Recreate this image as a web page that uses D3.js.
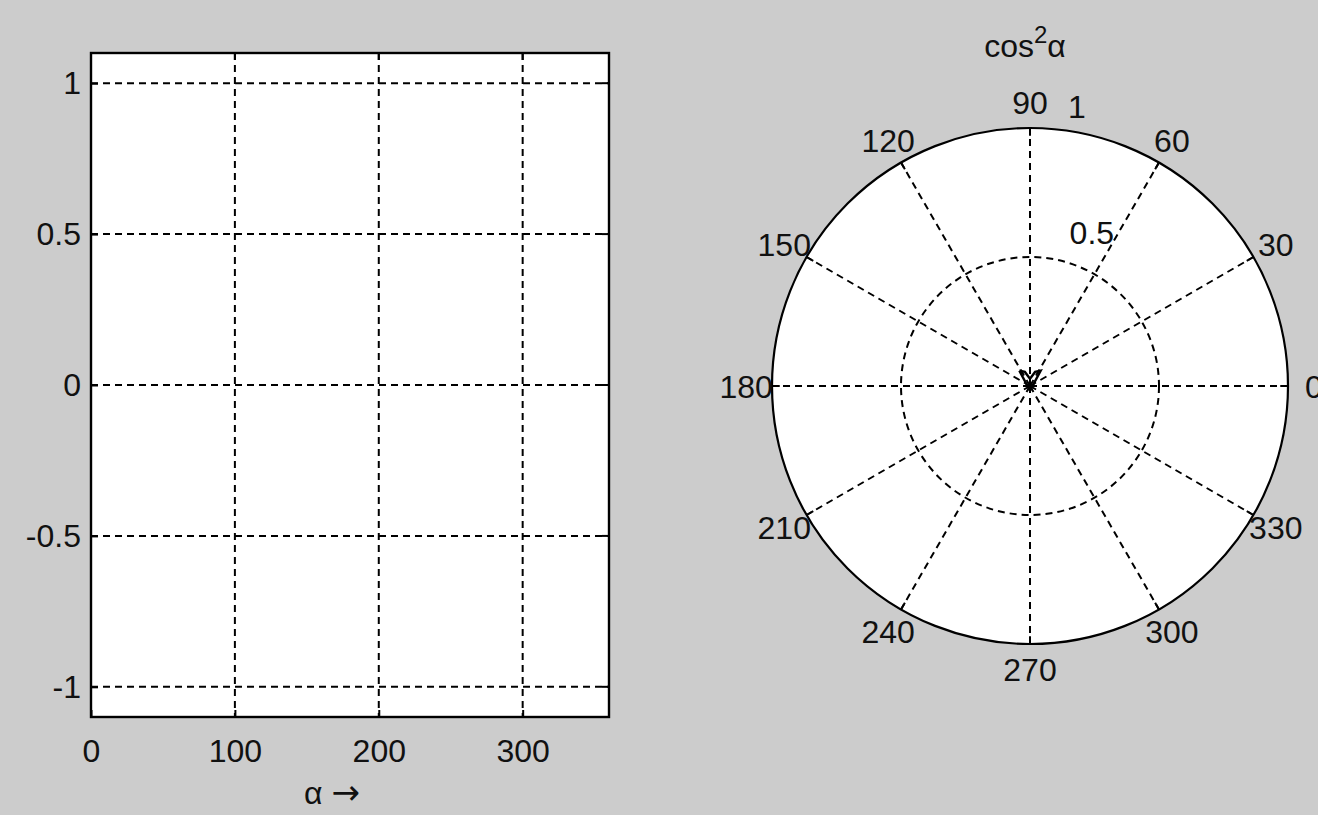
<!DOCTYPE html>
<html>
<head>
<meta charset="utf-8">
<script src="https://cdn.jsdelivr.net/npm/d3@7"></script>
<style>
body { margin: 0; background: #cccccc; }
text { font-family: "Liberation Sans", Arial, sans-serif; font-size: 32px; fill: #111; }
</style>
</head>
<body>
<svg id="fig" width="1318" height="815"></svg>
<script>
// data
var xTicks = [0, 100, 200, 300];
var yTicks = [-1, -0.5, 0, 0.5, 1];
var xDomain = [0, 360];
var yDomain = [-1.1, 1.1];
var polarAngles = [0, 30, 60, 90, 120, 150, 180, 210, 240, 270, 300, 330];
var polarRings = [0.5, 1];
var rMax = 1;
// the tiny cos^2 trace near the centre (angle in deg, r)
var traceAng = [125, 270, 55, 70, 90, 110, 125];
var traceR = [0.072, 0.018, 0.072, 0.058, 0.028, 0.058, 0.072];

var svg = d3.select("#fig");
var DASH = "7,5";
var FS = 32;

// ---------- left cartesian axes ----------
var L = {left: 91, right: 609, top: 53, bottom: 717};
var x = d3.scaleLinear().domain(xDomain).range([L.left, L.right]);
var y = d3.scaleLinear().domain(yDomain).range([L.bottom, L.top]);

var gL = svg.append("g");
gL.append("rect").attr("x", L.left).attr("y", L.top)
    .attr("width", L.right - L.left).attr("height", L.bottom - L.top)
    .attr("fill", "#fff");

// grid
gL.selectAll(".vg").data(xTicks.filter(function (d) { return d > 0; })).enter()
    .append("line").attr("x1", x).attr("x2", x).attr("y1", L.top).attr("y2", L.bottom)
    .attr("stroke", "#000").attr("stroke-width", 2).attr("stroke-dasharray", DASH);
gL.selectAll(".hg").data(yTicks).enter()
    .append("line").attr("x1", L.left).attr("x2", L.right).attr("y1", y).attr("y2", y)
    .attr("stroke", "#000").attr("stroke-width", 2).attr("stroke-dasharray", DASH);

// axes with inward ticks
var xAxis = d3.axisBottom(x).tickValues(xTicks).tickSizeInner(-7).tickSizeOuter(0).tickPadding(22);
var yAxis = d3.axisLeft(y).tickValues(yTicks).tickSizeInner(-7).tickSizeOuter(0).tickPadding(10)
    .tickFormat(function (d) { return d === 0 ? "0" : String(d); });
var ax = gL.append("g").attr("transform", "translate(0," + L.bottom + ")").call(xAxis);
var ay = gL.append("g").attr("transform", "translate(" + L.left + ",0)").call(yAxis);
[ax, ay].forEach(function (a) {
    a.select(".domain").remove();
    a.selectAll("line").attr("stroke", "#000").attr("stroke-width", 2);
    a.selectAll("text").attr("font-size", FS).attr("font-family", "Liberation Sans, Arial, sans-serif").attr("fill", "#111");
});
// right-side ticks mirrored
gL.selectAll(".ry").data(yTicks).enter().append("line")
    .attr("x1", L.right).attr("x2", L.right - 7).attr("y1", y).attr("y2", y)
    .attr("stroke", "#000").attr("stroke-width", 2);
gL.selectAll(".tx").data(xTicks.filter(function (d) { return d > 0; })).enter().append("line")
    .attr("x1", x).attr("x2", x).attr("y1", L.top).attr("y2", L.top + 7)
    .attr("stroke", "#000").attr("stroke-width", 2);

gL.append("rect").attr("x", L.left).attr("y", L.top)
    .attr("width", L.right - L.left).attr("height", L.bottom - L.top)
    .attr("fill", "none").attr("stroke", "#000").attr("stroke-width", 2.4);

var xl = gL.append("text").attr("x", 332).attr("y", 804).attr("text-anchor", "middle");
xl.append("tspan").text("\u03b1 ");
xl.append("tspan").attr("font-size", 34).attr("font-family", "DejaVu Sans").text("\u2192");

// ---------- right polar axes ----------
var cx = 1030, cy = 386, R = 258;
var r = d3.scaleLinear().domain([0, rMax]).range([0, R]);
var gP = svg.append("g").attr("transform", "translate(" + cx + "," + cy + ")");

function px(a, rr) { return r(rr) * Math.cos(a * Math.PI / 180); }
function py(a, rr) { return -r(rr) * Math.sin(a * Math.PI / 180); }

gP.append("circle").attr("r", r(rMax)).attr("fill", "#fff");

// spokes
gP.selectAll(".spoke").data(polarAngles).enter().append("line")
    .attr("x1", 0).attr("y1", 0)
    .attr("x2", function (d) { return px(d, rMax); })
    .attr("y2", function (d) { return py(d, rMax); })
    .attr("stroke", "#000").attr("stroke-width", 2).attr("stroke-dasharray", DASH);

// rings
gP.selectAll(".ring").data(polarRings).enter().append("circle")
    .attr("r", function (d) { return r(d); })
    .attr("fill", "none").attr("stroke", "#000")
    .attr("stroke-width", function (d) { return d === rMax ? 2.2 : 2; })
    .attr("stroke-dasharray", function (d) { return d === rMax ? null : DASH; });

// small ticks on the outer circle
gP.selectAll(".otick").data(polarAngles).enter().append("line")
    .attr("x1", function (d) { return px(d, rMax); })
    .attr("y1", function (d) { return py(d, rMax); })
    .attr("x2", function (d) { return px(d, rMax * 0.97); })
    .attr("y2", function (d) { return py(d, rMax * 0.97); })
    .attr("stroke", "#000").attr("stroke-width", 2);

// angle labels
gP.selectAll(".alab").data(polarAngles).enter().append("text")
    .attr("x", function (d) { return px(d, rMax * 1.1); })
    .attr("y", function (d) { return py(d, rMax * 1.1); })
    .attr("text-anchor", "middle").attr("dy", "0.36em")
    .text(function (d) { return d; });

// radial labels
gP.selectAll(".rlab").data(polarRings).enter().append("text")
    .attr("x", function (d) { return d === rMax ? px(80.5, 1.1) : px(68, 0.64); })
    .attr("y", function (d) { return d === rMax ? py(80.5, 1.1) : py(68, 0.64); })
    .attr("text-anchor", "middle").attr("dy", "0.36em")
    .text(function (d) { return d; });

// trace
var line = d3.line()
    .x(function (d, i) { return px(traceAng[i], traceR[i]); })
    .y(function (d, i) { return py(traceAng[i], traceR[i]); });
gP.append("path").datum(traceAng).attr("d", line)
    .attr("fill", "none").attr("stroke", "#000").attr("stroke-width", 2.4);

// title
var title = svg.append("text").attr("x", cx - 5).attr("y", 57).attr("text-anchor", "middle");
title.append("tspan").text("cos");
title.append("tspan").attr("dy", -14).attr("font-size", 24).text("2");
title.append("tspan").attr("dy", 14).text("\u03b1");
</script>
</body>
</html>
